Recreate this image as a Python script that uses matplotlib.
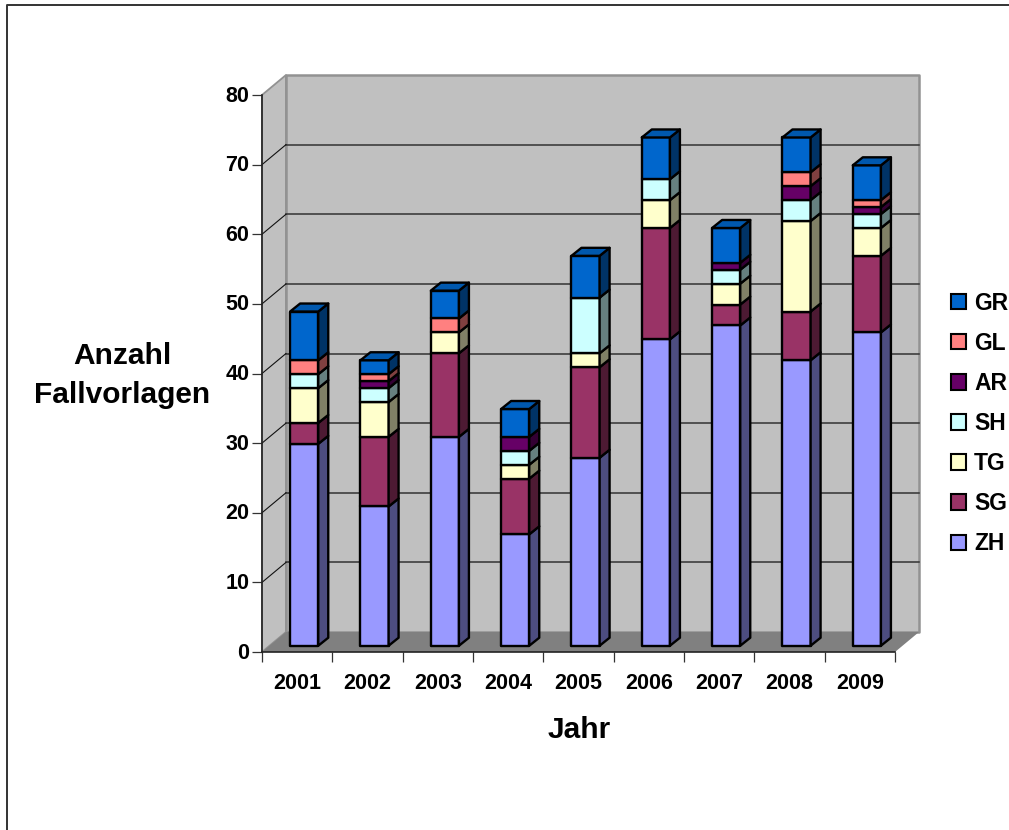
"""
Fallvorlagen pro Jahr und Kanton, gestapelte Saeulen mit 3D-Optik.
"""
import matplotlib
matplotlib.use("Agg")
import matplotlib.pyplot as plt
from matplotlib.lines import Line2D
from matplotlib.patches import Patch, Polygon
from matplotlib.transforms import Affine2D

YEARS = ["2001", "2002", "2003", "2004", "2005", "2006", "2007", "2008", "2009"]
CANTONS = ["ZH", "SG", "TG", "SH", "AR", "GL", "GR"]

ZH = [29, 20, 30, 16, 27, 44, 46, 41, 45]
SG = [3, 10, 12, 8, 13, 16, 3, 7, 11]
TG = [5, 5, 3, 2, 2, 4, 3, 13, 4]
SH = [2, 2, 0, 2, 8, 3, 2, 3, 2]
AR = [0, 1, 0, 2, 0, 0, 1, 2, 1]
GL = [2, 1, 2, 0, 0, 0, 0, 2, 1]
GR = [7, 2, 4, 4, 6, 6, 5, 5, 5]
SERIES = [ZH, SG, TG, SH, AR, GL, GR]

FACE = ["#9999FF", "#993366", "#FFFFCC", "#CCFFFF", "#660066", "#FF8080", "#0066CC"]
SIDE = ["#4D4D80", "#4D1A33", "#808066", "#668080", "#330033", "#804040", "#003366"]
TOP = "#0058AE"

# Tiefe der Waende und Saeulen, in Achseneinheiten
WALL_DX, WALL_DY = 0.341, 2.87
BAR_OFF_X, BAR_OFF_Y = 0.10, 0.9
BAR_W = 0.40
BAR_DX, BAR_DY = 0.142, 1.15
BAR_LW = 1.7

plt.rcParams["font.family"] = ["Liberation Sans", "DejaVu Sans"]
plt.rcParams["font.weight"] = "bold"

fig = plt.figure(figsize=(10.09, 8.30), dpi=100)
ax = fig.add_axes([262 / 1009, 178 / 830, 633 / 1009, 557 / 830])
ax.set_xlim(-0.5, 8.5)
ax.set_ylim(0, 80)
ax.patch.set_visible(False)


def poly(points, color, edge="none", lw=0.0, z=1):
    ax.add_patch(Polygon(points, closed=True, facecolor=color, edgecolor=edge,
                         linewidth=lw, clip_on=False, zorder=z, joinstyle="round"))


x0, x1 = -0.5, 8.5
# Rueckwand, linke Wand, Boden
poly([(x0, 0), (x0 + WALL_DX, WALL_DY), (x0 + WALL_DX, 80 + WALL_DY), (x0, 80)],
     "#C0C0C0", "#929292", 1.3)
poly([(x0 + WALL_DX, WALL_DY), (x1 + WALL_DX, WALL_DY),
      (x1 + WALL_DX, 80 + WALL_DY), (x0 + WALL_DX, 80 + WALL_DY)], "#C0C0C0", "#929292", 1.8)
poly([(x0, 0), (x1, 0), (x1 + WALL_DX, WALL_DY), (x0 + WALL_DX, WALL_DY)], "#808080")

for v in range(10, 80, 10):
    ax.plot([x0 + WALL_DX, x1 + WALL_DX], [v + WALL_DY, v + WALL_DY],
            color="#333333", lw=1.1, clip_on=False, zorder=2)
    ax.plot([x0, x0 + WALL_DX], [v, v + WALL_DY],
            color="#111111", lw=0.8, clip_on=False, zorder=2)

# Saeulen von unten nach oben stapeln
for i in range(len(YEARS)):
    left = i + BAR_OFF_X - BAR_W / 2
    right = left + BAR_W
    base = 0
    for k, values in enumerate(SERIES):
        v = values[i]
        if v == 0:
            continue
        y0 = base + BAR_OFF_Y
        y1 = y0 + v
        poly([(left, y0), (right, y0), (right, y1), (left, y1)], FACE[k], "black", BAR_LW, 3)
        poly([(right, y0), (right + BAR_DX, y0 + BAR_DY),
              (right + BAR_DX, y1 + BAR_DY), (right, y1)], SIDE[k], "black", BAR_LW, 3)
        base += v
    top = base + BAR_OFF_Y
    poly([(left, top), (right, top), (right + BAR_DX, top + BAR_DY),
          (left + BAR_DX, top + BAR_DY)], TOP, "black", BAR_LW, 3)

for name in ["top", "right"]:
    ax.spines[name].set_visible(False)
for name in ["left", "bottom"]:
    ax.spines[name].set_color("#222222")
    ax.spines[name].set_linewidth(1.2)
    ax.spines[name].set_zorder(4)

ax.set_yticks(range(0, 90, 10))
ax.tick_params(axis="y", length=7.2, width=0.9, color="#333333", labelsize=15.5, pad=2)
ax.set_xticks(range(len(YEARS)))
ax.set_xticklabels(YEARS)
ax.tick_params(axis="x", which="major", length=0, labelsize=15.5, pad=15)
ax.set_xticks([i - 0.5 for i in range(len(YEARS) + 1)], minor=True)
ax.tick_params(axis="x", which="minor", length=7, width=0.9, color="#333333")

# Beschriftung der y-Achse sitzt leicht ueber den Strichen
fig.canvas.draw()
for label in ax.get_yticklabels():
    label.set_transform(label.get_transform() + Affine2D().translate(0, 1.5))

ax.set_xlabel("Jahr", fontsize=21.5, fontweight="bold")
ax.xaxis.set_label_coords((579 - 262) / 633, (652 - 730) / 557, transform=ax.transAxes)
ax.xaxis.label.set_va("center")
ax.set_ylabel("Anzahl\nFallvorlagen", fontsize=21.5, fontweight="bold", rotation=0,
              ha="center", va="center", linespacing=1.47)
ax.yaxis.set_label_coords((122 - 262) / 633, (652 - 375.5) / 557, transform=ax.transAxes)

handles = [Patch(facecolor=FACE[k], edgecolor="black", linewidth=1.5, label=CANTONS[k])
           for k in range(len(CANTONS) - 1, -1, -1)]
fig.legend(handles=handles, loc="center left", bbox_to_anchor=(951 / 1009, (830 - 423.5) / 830),
           frameon=False, fontsize=16.5, handlelength=0.65, handleheight=0.65,
           handletextpad=0.36, labelspacing=0.746, borderpad=0, borderaxespad=0)

# Rahmen um die ganze Grafik, laeuft rechts und unten aus dem Bild
fig.add_artist(Line2D([1.0, 7 / 1009, 7 / 1009], [1 - 5.5 / 830, 1 - 5.5 / 830, 0],
                      color="#333333", lw=1.4))

fig.savefig("out.png", dpi=100)
